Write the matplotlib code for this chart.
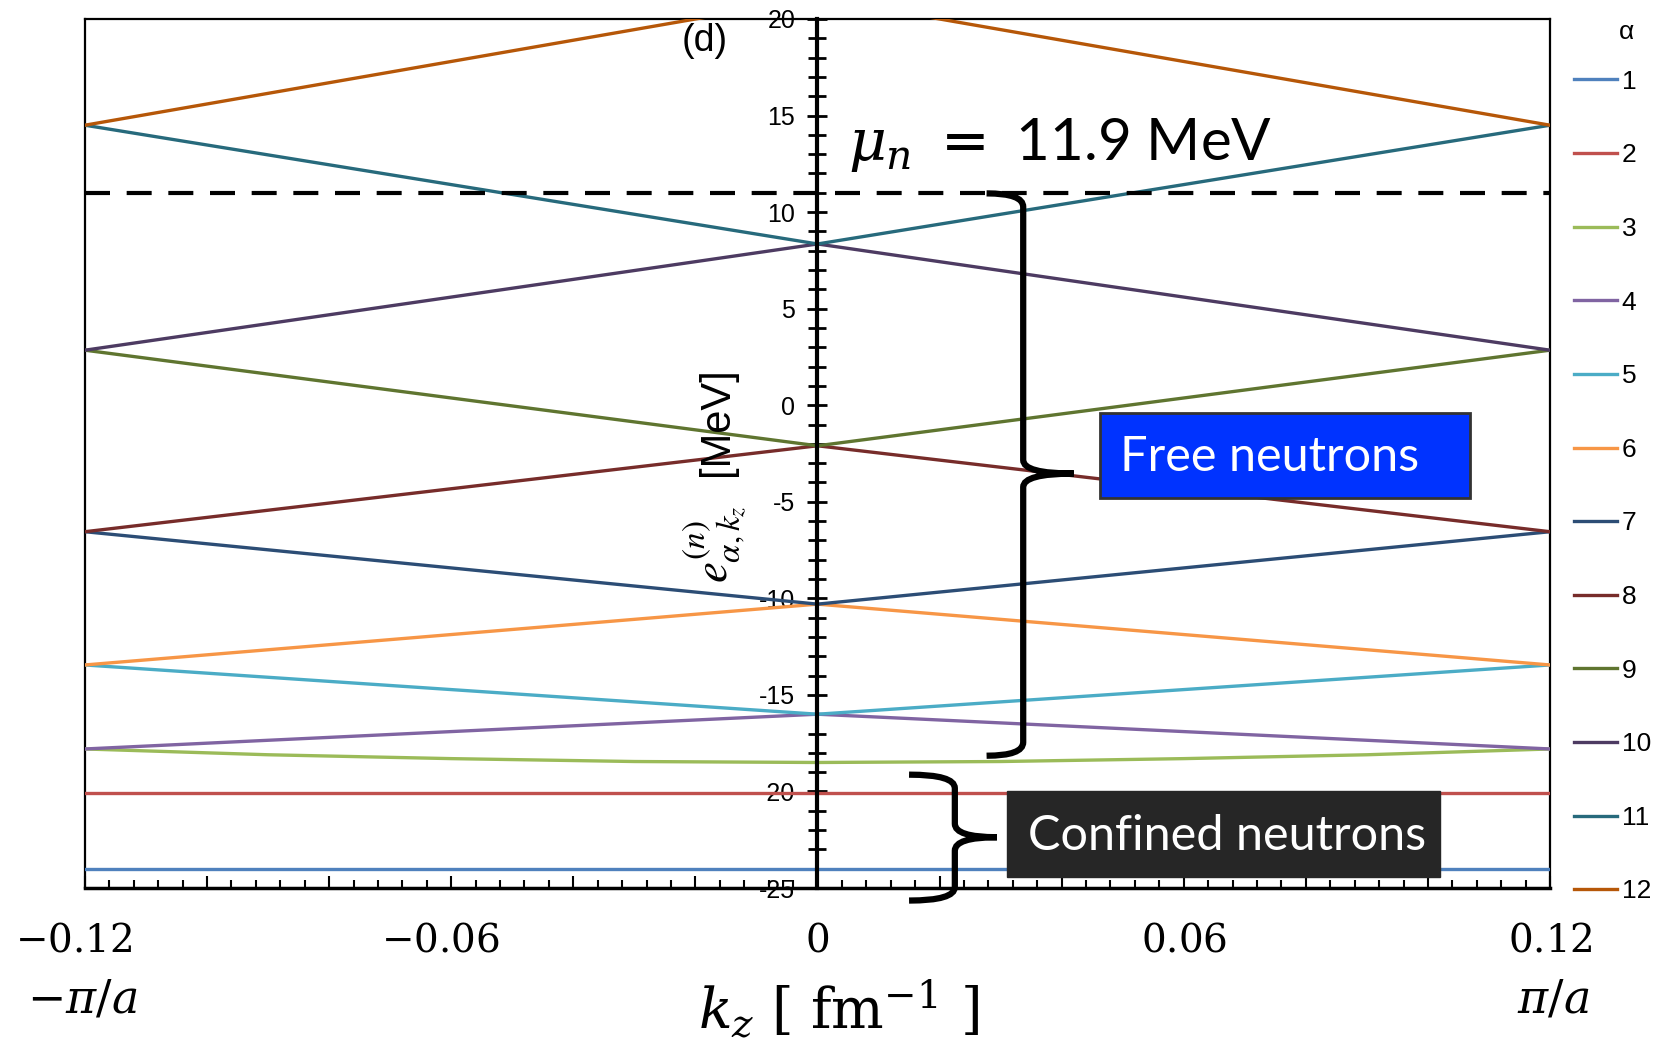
import matplotlib.pyplot as plt
import numpy as np
from matplotlib.path import Path
from matplotlib.patches import PathPatch, Rectangle

plt.rcParams['axes.unicode_minus'] = False
plt.rcParams['mathtext.fontset'] = 'stix'
plt.rcParams['font.family'] = ['Liberation Sans', 'DejaVu Sans']

# band energies e_(alpha,kz) [MeV]
k_v = [-0.12, 0.0, 0.12]          # straight (folded) bands
k_c = [-0.12, -0.09, -0.06, -0.03, 0.0, 0.03, 0.06, 0.09, 0.12]  # curved band 3
band1 = [-24.0, -24.0, -24.0]
band2 = [-20.1, -20.1, -20.1]
band3 = [-17.8, -18.1, -18.3, -18.45, -18.5, -18.45, -18.3, -18.1, -17.8]
band4 = [-17.8, -16.0, -17.8]
band5 = [-13.45, -16.0, -13.45]
band6 = [-13.45, -10.3, -13.45]
band7 = [-6.55, -10.3, -6.55]
band8 = [-6.55, -2.1, -6.55]
band9 = [2.85, -2.1, 2.85]
band10 = [2.85, 8.35, 2.85]
band11 = [14.5, 8.35, 14.5]
band12 = [14.5, 21.1, 14.5]

bands = [(k_v, band1), (k_v, band2), (k_c, band3), (k_v, band4), (k_v, band5),
         (k_v, band6), (k_v, band7), (k_v, band8), (k_v, band9), (k_v, band10),
         (k_v, band11), (k_v, band12)]
colors = ['#4F81BD', '#C0504D', '#9BBB59', '#8064A2', '#4BACC6', '#F79646',
          '#2C4D75', '#772C2A', '#5F7530', '#4D3B62', '#276A7C', '#B65708']
mu_n = 11.0   # where the dashed line is drawn

fig = plt.figure(figsize=(16.56, 10.38), dpi=100)
ax = fig.add_axes([0.0513, 0.1445, 0.8847, 0.8372])

for i, (k, e) in enumerate(bands):
    ax.plot(k, e, color=colors[i], lw=2.4, label=str(i + 1), zorder=3)

ax.axhline(mu_n, color='black', lw=3, dashes=(6, 4), zorder=4)

ax.set_xlim(-0.12, 0.12)
ax.set_ylim(-25, 20)

# y axis through k_z = 0
ax.spines['left'].set_position(('data', 0))
ax.spines['left'].set_linewidth(3)
ax.spines['left'].set_zorder(5)
ax.spines['bottom'].set_linewidth(2.5)
ax.spines['top'].set_linewidth(1.6)
ax.spines['right'].set_linewidth(1.6)
ax.plot([0, 0], [0, 1], transform=ax.transAxes, color='black', lw=1.6, clip_on=False)

ax.set_yticks(np.arange(-25, 21, 5))
ax.set_yticks(np.arange(-25, 21, 1), minor=True)
ax.tick_params(axis='y', which='both', direction='inout', width=2, labelsize=18, pad=8.5)
ax.tick_params(axis='y', which='major', length=15)
ax.tick_params(axis='y', which='minor', length=13)

ax.set_xticks(np.arange(-0.12, 0.121, 0.02))
ax.set_xticks(np.arange(-0.12, 0.121, 0.004), minor=True)
ax.tick_params(axis='x', which='both', direction='in', width=1.5, labelbottom=False)
ax.tick_params(axis='x', which='major', length=9)
ax.tick_params(axis='x', which='minor', length=6)

# x labels
xt = ax.get_xaxis_transform()
for v, s in zip([-0.12, -0.06, 0, 0.06, 0.12], ['-0.12', '-0.06', '0', '0.06', '0.12']):
    shift = -0.0018 if v < 0 else 0
    ax.text(v + shift, -0.062, '$' + s + '$', transform=xt, ha='center', va='center',
            fontsize=28, math_fontfamily='dejavuserif')
ax.text(-0.1205, -0.13, r'$-\pi/a$', transform=xt, ha='center', va='center', fontsize=33,
        math_fontfamily='dejavuserif')
ax.text(0.1205, -0.13, r'$\pi/a$', transform=xt, ha='center', va='center', fontsize=33,
        math_fontfamily='dejavuserif')
ax.text(0.0035, -0.14, r'$k_z\ [\ \mathrm{fm}^{-1}\ ]$', transform=xt, ha='center',
        va='center', fontsize=40, math_fontfamily='dejavuserif')

# y label: energy symbol and unit
ax.text(-0.0168, -7.2, r'$e^{(n)}_{\alpha,k_z}$', rotation=90, ha='center',
        va='center', fontsize=34)
ax.text(-0.0165, -0.85, '[MeV]', rotation=90, ha='center', va='center', fontsize=30)
ax.text(-0.0185, 18.85, '(d)', ha='center', va='center', fontsize=27)
ax.text(0.005, 13.5, r'$\mu_n\;=\;$11.9 MeV', ha='left', va='center', fontsize=42,
        family='Lato', math_fontfamily='dejavuserif')


def brace(x_tip, x_spine, x_point, y_top, y_bot, y_mid, r):
    verts = [(x_tip, y_top), (x_spine, y_top), (x_spine, y_top - r),
             (x_spine, y_mid + r), (x_spine, y_mid), (x_point, y_mid),
             (x_point, y_mid), (x_spine, y_mid), (x_spine, y_mid - r),
             (x_spine, y_bot + r), (x_spine, y_bot), (x_tip, y_bot)]
    codes = [Path.MOVETO, Path.CURVE3, Path.CURVE3, Path.LINETO, Path.CURVE3, Path.CURVE3,
             Path.MOVETO, Path.CURVE3, Path.CURVE3, Path.LINETO, Path.CURVE3, Path.CURVE3]
    ax.add_patch(PathPatch(Path(verts, codes), fill=False, lw=4.5, color='black',
                           capstyle='butt', clip_on=False, zorder=6))


brace(0.0277, 0.0337, 0.0420, 10.97, -18.15, -3.54, 0.7)
brace(0.0150, 0.0225, 0.0294, -19.13, -25.65, -22.37, 0.7)

ax.add_patch(Rectangle((0.0463, -4.79), 0.0606, 4.37, facecolor='#0033FF',
                       edgecolor='#333333', lw=2, zorder=7))
ax.text(0.0496, -2.7, 'Free neutrons', color='white', family='Lato', fontsize=35,
        va='center', ha='left', zorder=8)
ax.add_patch(Rectangle((0.0311, -24.44), 0.0709, 4.48, facecolor='#262626',
                       edgecolor='#262626', lw=1, zorder=7))
ax.text(0.0345, -22.3, 'Confined neutrons', color='white', family='Lato', fontsize=35,
        va='center', ha='left', zorder=8)

leg = ax.legend(loc='upper left', bbox_to_anchor=(0.9443, 0.943), bbox_transform=fig.transFigure,
                frameon=False, fontsize=19, handlelength=1.6, handletextpad=0.2,
                labelspacing=1.88, borderaxespad=0)
fig.text(0.982, 0.969, 'α', ha='center', va='center', fontsize=19)

fig.savefig('out.png', dpi=100)
